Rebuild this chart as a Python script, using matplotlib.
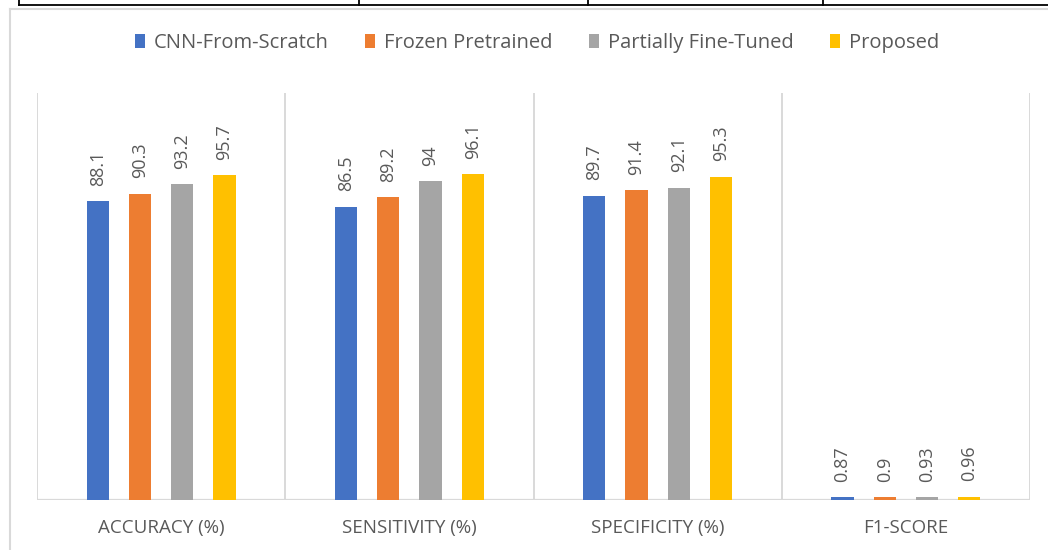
import matplotlib
matplotlib.use("Agg")
import matplotlib.pyplot as plt
from matplotlib.patches import Patch
from matplotlib.lines import Line2D
import numpy as np

plt.rcParams['font.family'] = ['Open Sans', 'DejaVu Sans']

categories = ["ACCURACY (%)", "SENSITIVITY (%)", "SPECIFICITY (%)", "F1-SCORE"]
series_names = ["CNN-From-Scratch", "Frozen Pretrained", "Partially Fine-Tuned", "Proposed"]
cnn_scratch = [88.1, 86.5, 89.7, 0.87]
frozen_pretrained = [90.3, 89.2, 91.4, 0.9]
partial_finetune = [93.2, 94, 92.1, 0.93]
proposed = [95.7, 96.1, 95.3, 0.96]
value_labels = [["88.1", "86.5", "89.7", "0.87"],
                ["90.3", "89.2", "91.4", "0.9"],
                ["93.2", "94", "92.1", "0.93"],
                ["95.7", "96.1", "95.3", "0.96"]]

colors = ["#4472C4", "#ED7D31", "#A5A5A5", "#FFC000"]
grid_col = "#D9D9D9"
text_col = "#595959"

W, H = 1048, 550
fig = plt.figure(figsize=(W / 100, H / 100), dpi=100)

def fx(px):
    return px / W

def fy(py):
    return 1 - py / H

# plot area
left, right, top, bottom = 37, 1030, 93, 500
ax = fig.add_axes([fx(left), fy(bottom), fx(right - left), (bottom - top) / H])
ax.set_xlim(-0.5, 3.5)
ax.set_ylim(0, 120)

all_series = [cnn_scratch, frozen_pretrained, partial_finetune, proposed]
x = np.arange(len(categories))
bar_w = 0.09
step = 0.17
for i, (vals, c) in enumerate(zip(all_series, colors)):
    pos = x + (i - 1.5) * step
    bars = ax.bar(pos, vals, width=bar_w, color=c, zorder=3)
    for b, lab in zip(bars, value_labels[i]):
        ax.annotate(lab, (b.get_x() + b.get_width() / 2, b.get_height()),
                    xytext=(0, 11), textcoords="offset points",
                    rotation=90, ha="center", va="bottom",
                    fontsize=13, color=text_col)

# category separators and baseline
for xv in np.arange(-0.5, 4.0, 1.0):
    ax.axvline(xv, color=grid_col, lw=1.4, zorder=1)
ax.axhline(0, color=grid_col, lw=1.6, zorder=2)

for s in ax.spines.values():
    s.set_visible(False)
ax.set_xticks([])
ax.set_yticks([])

# category labels
for xi, cat in zip(x, categories):
    ax.text(xi, -0.07, cat, transform=ax.get_xaxis_transform(),
            ha="center", va="center", fontsize=13.5, color=text_col)

# legend
handles = [Patch(facecolor=c, edgecolor="none") for c in colors]
fig.legend(handles, series_names, loc="center", ncol=4,
           bbox_to_anchor=(fx(537), fy(43)), frameon=False,
           fontsize=14.5, labelcolor=text_col,
           handlelength=0.5, handleheight=0.7, handletextpad=0.45,
           columnspacing=1.8)

# chart outline
fig.add_artist(Line2D([fx(9.5), fx(9.5)], [fy(8.5), fy(H + 5)], color=grid_col, lw=1.5))
fig.add_artist(Line2D([fx(9.5), fx(W + 5)], [fy(8.5), fy(8.5)], color=grid_col, lw=1.5))

# table rule above the chart
fig.add_artist(Line2D([fx(19), fx(W + 5)], [fy(4.5), fy(4.5)], color="black", lw=1.3))
for xv in [19, 359, 588, 823]:
    fig.add_artist(Line2D([fx(xv), fx(xv)], [fy(-2), fy(4.5)], color="black", lw=1.3))

fig.savefig("out.png", dpi=100)
